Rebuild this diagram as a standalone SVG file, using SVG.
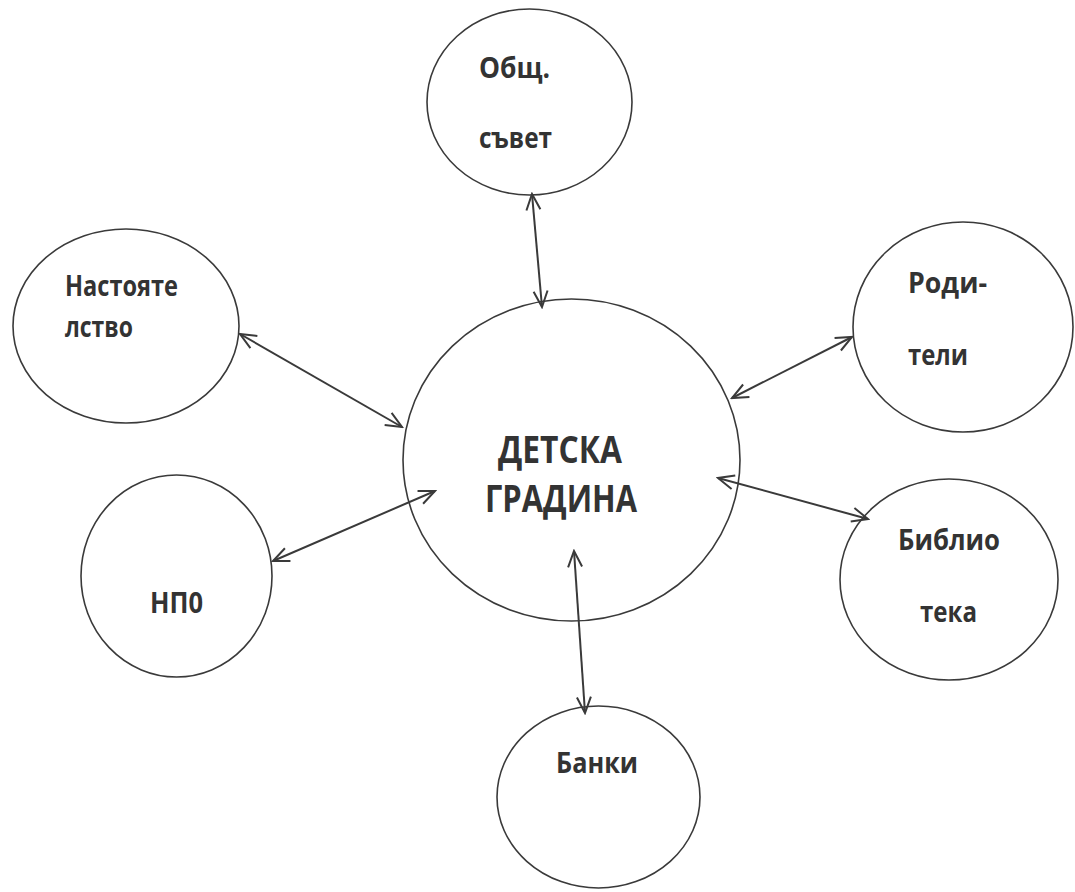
<svg xmlns="http://www.w3.org/2000/svg" width="1075" height="892" viewBox="0 0 1075 892">
<style>
.node ellipse{fill:none;stroke:#3a3a3a;stroke-width:1.6}
.t{font-family:"Open Sans","Noto Sans","Liberation Sans",sans-serif;font-weight:bold;font-size:28px;fill:#333}
.big{font-size:38px}
.conn line{stroke:#3a3a3a;stroke-width:2;marker-start:url(#ah);marker-end:url(#ah)}
</style>
<defs>
<marker id="ah" markerUnits="userSpaceOnUse" viewBox="-1 -9 19 18" refX="16" refY="0" markerWidth="19" markerHeight="18" orient="auto-start-reverse">
<path d="M0,-7 L16,0 L0,7" fill="none" stroke="#3a3a3a" stroke-width="2"/>
</marker>
</defs>
<rect width="1075" height="892" fill="#fff"/>
<g id="center" class="node">
<ellipse cx="571.5" cy="460" rx="168.5" ry="161"/>
<text class="t big" x="498" y="463" textLength="124" lengthAdjust="spacingAndGlyphs">ДЕТСКА</text>
<text class="t big" x="485" y="512" textLength="152" lengthAdjust="spacingAndGlyphs">ГРАДИНА</text>
</g>
<g id="obsht" class="node">
<ellipse cx="529.5" cy="102" rx="102.5" ry="93"/>
<text class="t" x="479" y="78" textLength="71" lengthAdjust="spacingAndGlyphs">Общ.</text>
<text class="t" x="479" y="148" textLength="73" lengthAdjust="spacingAndGlyphs">съвет</text>
</g>
<g id="nastoyatelstvo" class="node">
<ellipse cx="126" cy="326" rx="113" ry="97"/>
<text class="t" x="65" y="296" textLength="113" lengthAdjust="spacingAndGlyphs">Настояте</text>
<text class="t" x="65" y="337" textLength="68" lengthAdjust="spacingAndGlyphs">лство</text>
</g>
<g id="roditeli" class="node">
<ellipse cx="963" cy="327" rx="110" ry="105"/>
<text class="t" x="908" y="293" textLength="79" lengthAdjust="spacingAndGlyphs">Роди-</text>
<text class="t" x="908" y="365" textLength="60" lengthAdjust="spacingAndGlyphs">тели</text>
</g>
<g id="npo" class="node">
<ellipse cx="176.5" cy="576" rx="95.5" ry="101"/>
<text class="t" x="150" y="613" textLength="53" lengthAdjust="spacingAndGlyphs">НП0</text>
</g>
<g id="biblioteka" class="node">
<ellipse cx="949" cy="579.5" rx="109" ry="100.5"/>
<text class="t" x="898" y="550" textLength="102" lengthAdjust="spacingAndGlyphs">Библио</text>
<text class="t" x="920" y="622" textLength="57" lengthAdjust="spacingAndGlyphs">тека</text>
</g>
<g id="banki" class="node">
<ellipse cx="598.5" cy="797" rx="101.5" ry="91"/>
<text class="t" x="556" y="773" textLength="82" lengthAdjust="spacingAndGlyphs">Банки</text>
</g>
<g id="connectors" class="conn">
<line x1="532" y1="194" x2="542" y2="307"/>
<line x1="240" y1="334" x2="402" y2="427"/>
<line x1="732" y1="398" x2="852" y2="337"/>
<line x1="273" y1="561" x2="435" y2="491"/>
<line x1="718" y1="478" x2="868" y2="519"/>
<line x1="574" y1="551" x2="585" y2="713"/>
</g>
</svg>
